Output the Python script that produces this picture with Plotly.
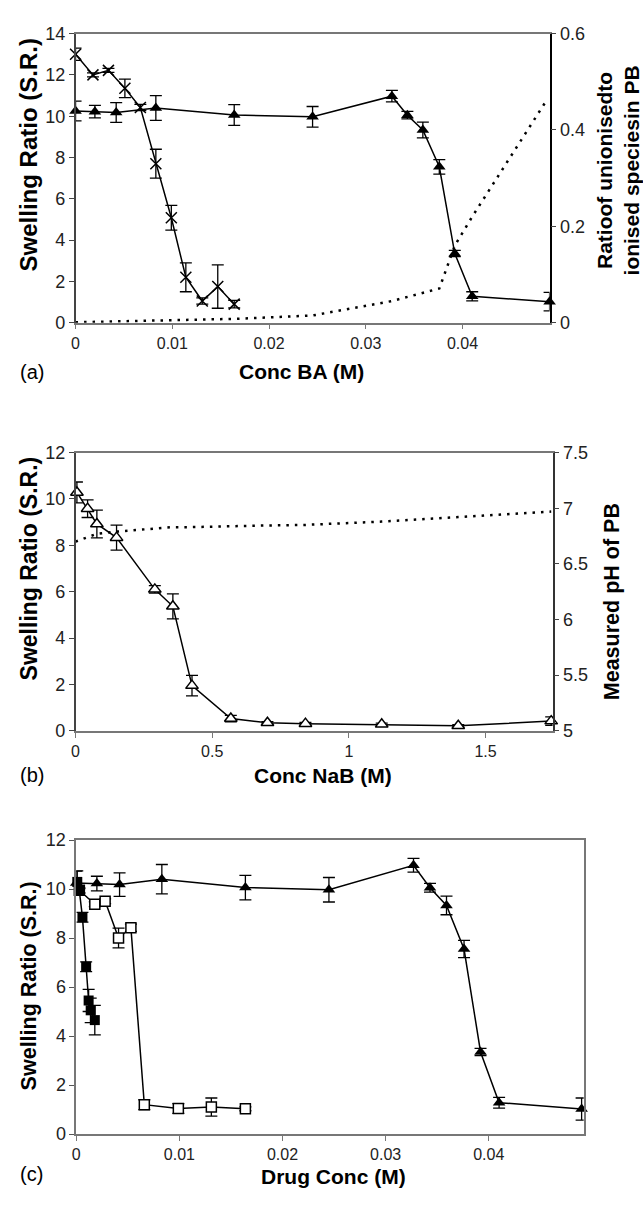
import plotly.graph_objects as go

# ---------------- data ----------------
# Panel (a) / (c): triangles (BA)
ba_x = [0, 0.002, 0.0042, 0.0083, 0.0164, 0.0245, 0.0327, 0.0343, 0.0359, 0.0376, 0.0392, 0.041, 0.049]
ba_sr = [10.25, 10.22, 10.18, 10.4, 10.06, 9.97, 10.97, 10.05, 9.33, 7.55, 3.35, 1.28, 1.02]
ba_err = [0.48, 0.3, 0.48, 0.6, 0.5, 0.5, 0.28, 0.18, 0.38, 0.35, 0.15, 0.22, 0.45]

# Panel (a): crosses
cr_x = [0, 0.0018, 0.0034, 0.0051, 0.0067, 0.0083, 0.0099, 0.0114, 0.0131, 0.0147, 0.0164]
cr_sr = [13.0, 12.0, 12.22, 11.35, 10.42, 7.7, 5.08, 2.2, 1.05, 1.75, 0.9]
cr_err = [0.3, 0.1, 0.1, 0.45, 0.15, 0.7, 0.6, 0.7, 0.15, 1.05, 0.18]

# Panel (a): ratio of unionised to ionised species (right axis)
ratio_x = [0, 0.008, 0.0164, 0.0245, 0.0327, 0.0376, 0.0392, 0.041, 0.0488]
ratio_y = [0.001, 0.004, 0.008, 0.015, 0.045, 0.071, 0.16, 0.22, 0.465]

# Panel (b): NaB
nab_x = [0.005, 0.044, 0.078, 0.15, 0.29, 0.356, 0.426, 0.568, 0.702, 0.841, 1.12, 1.40, 1.74]
nab_sr = [10.28, 9.58, 8.92, 8.33, 6.1, 5.37, 1.95, 0.53, 0.35, 0.31, 0.28, 0.22, 0.42]
nab_err = [0.45, 0.38, 0.6, 0.54, 0.16, 0.54, 0.44, 0.14, 0.05, 0.05, 0.05, 0.05, 0.18]
ph_x = [0, 0.044, 0.078, 0.15, 0.29, 0.356, 0.426, 0.568, 0.702, 0.841, 1.12, 1.40, 1.74]
ph_y = [6.70, 6.74, 6.77, 6.79, 6.82, 6.83, 6.83, 6.84, 6.845, 6.85, 6.88, 6.92, 6.97]

# Panel (c): open squares
os_x = [0.0003, 0.0018, 0.0028, 0.0041, 0.0053, 0.0066, 0.0099, 0.0131, 0.0164]
os_sr = [9.95, 9.38, 9.5, 8.0, 8.42, 1.2, 1.04, 1.1, 1.03]
os_err = [0.1, 0.1, 0.1, 0.4, 0.15, 0.2, 0.2, 0.37, 0.08]

# Panel (c): filled squares
fs_x = [0.0001, 0.0003, 0.0006, 0.00096, 0.0012, 0.0014, 0.0018]
fs_sr = [10.29, 9.92, 8.85, 6.83, 5.45, 5.05, 4.65]
fs_err = [0.45, 0.1, 0.2, 0.2, 0.45, 0.5, 0.6]

a_ticks = [0, 0.01, 0.02, 0.03, 0.04]
a_ticktext = ["0", "0.01", "0.02", "0.03", "0.04"]
ratio_ticks = [0, 0.2, 0.4, 0.6]
ratio_ticktext = ["0", "0.2", "0.4", "0.6"]
b_ticks = [0, 0.5, 1, 1.5]
b_ticktext = ["0", "0.5", "1", "1.5"]
ph_ticks = [5, 5.5, 6, 6.5, 7, 7.5]
ph_ticktext = ["5", "5.5", "6", "6.5", "7", "7.5"]

# ---------------- figure ----------------
W, H = 643, 1206
FONT = "Liberation Sans, Arial, Helvetica, sans-serif"


def py(y):
    return 1 - y / H


def px(x):
    return x / W


line = dict(color="black", width=1.5)


def ebar(arr):
    return dict(type="data", array=arr, color="black", thickness=1.3, width=6, visible=True)


fig = go.Figure()

# (a)
fig.add_trace(go.Scatter(x=ratio_x, y=ratio_y, xaxis="x", yaxis="y2", mode="lines",
                         line=dict(color="black", width=2.5, dash="2.5px,6px"), hoverinfo="skip"))
fig.add_trace(go.Scatter(x=ba_x, y=ba_sr, xaxis="x", yaxis="y", mode="lines+markers",
                         line=line, error_y=ebar(ba_err), cliponaxis=False,
                         marker=dict(symbol="triangle-up", size=11, color="black")))
fig.add_trace(go.Scatter(x=cr_x, y=cr_sr, xaxis="x", yaxis="y", mode="lines+markers",
                         line=line, error_y=ebar(cr_err), cliponaxis=False,
                         marker=dict(symbol="x-thin-open", size=11, color="black",
                                     line=dict(color="black", width=1.5))))

# (b)
fig.add_trace(go.Scatter(x=ph_x, y=ph_y, xaxis="x2", yaxis="y4", mode="lines",
                         line=dict(color="black", width=2.5, dash="2.5px,6px"), hoverinfo="skip"))
fig.add_trace(go.Scatter(x=nab_x, y=nab_sr, xaxis="x2", yaxis="y3", mode="lines+markers",
                         line=line, error_y=ebar(nab_err), cliponaxis=False,
                         marker=dict(symbol="triangle-up", size=11, color="white",
                                     line=dict(color="black", width=1.5))))

# (c)
fig.add_trace(go.Scatter(x=os_x, y=os_sr, xaxis="x3", yaxis="y5", mode="lines+markers",
                         line=line, error_y=ebar(os_err), cliponaxis=False,
                         marker=dict(symbol="square", size=10, color="white",
                                     line=dict(color="black", width=1.5))))
fig.add_trace(go.Scatter(x=fs_x, y=fs_sr, xaxis="x3", yaxis="y5", mode="lines+markers",
                         line=line, error_y=ebar(fs_err), cliponaxis=False,
                         marker=dict(symbol="square", size=10, color="black")))
fig.add_trace(go.Scatter(x=ba_x, y=ba_sr, xaxis="x3", yaxis="y5", mode="lines+markers",
                         line=line, error_y=ebar(ba_err), cliponaxis=False,
                         marker=dict(symbol="triangle-up", size=11, color="black")))

ytickfont = dict(family=FONT, size=18, color="#222")
xtickfont = dict(family=FONT, size=16, color="#222")
common = dict(showgrid=False, zeroline=False, showline=True, ticks="outside", ticklen=5,
              tickwidth=1, fixedrange=True)

dom_a_x = [px(72), px(549)]
dom_a_y = [py(318), py(24)]
dom_b_x = [px(72), px(552)]
dom_b_y = [py(733), py(450)]
dom_c_x = [px(72.7), px(583.3)]
dom_c_y = [py(1143), py(844)]

fig.update_layout(
    width=W, height=H, margin=dict(l=0, r=0, t=0, b=0),
    paper_bgcolor="white", plot_bgcolor="white", showlegend=False,
    font=dict(family=FONT, color="black"),
    xaxis=dict(domain=dom_a_x, anchor="y", range=[0, 0.049], tickvals=a_ticks, ticktext=a_ticktext,
               linecolor="#777", linewidth=1.5, tickcolor="#777", mirror=True, tickfont=xtickfont, **common),
    yaxis=dict(domain=dom_a_y, anchor="x", range=[0, 14], dtick=2, tick0=0,
               linecolor="#444", linewidth=1.5, tickcolor="#444", tickfont=ytickfont, **common),
    yaxis2=dict(overlaying="y", side="right", anchor="x", range=[0, 0.6], tickvals=ratio_ticks,
                ticktext=ratio_ticktext, linecolor="black", linewidth=1.5, tickcolor="#444",
                tickfont=ytickfont, **common),
    xaxis2=dict(domain=dom_b_x, anchor="y3", range=[0, 1.745], tickvals=b_ticks, ticktext=b_ticktext,
                linecolor="#777", linewidth=1.5, tickcolor="#777", mirror=True, tickfont=xtickfont, **common),
    yaxis3=dict(domain=dom_b_y, anchor="x2", range=[0, 12], dtick=2, tick0=0,
                linecolor="#444", linewidth=1.5, tickcolor="#444", tickfont=ytickfont, **common),
    yaxis4=dict(overlaying="y3", side="right", anchor="x2", range=[5, 7.5], tickvals=ph_ticks,
                ticktext=ph_ticktext, linecolor="#333", linewidth=1.5, tickcolor="#444",
                tickfont=ytickfont, **common),
    xaxis3=dict(domain=dom_c_x, anchor="y5", range=[0, 0.0492], tickvals=a_ticks, ticktext=a_ticktext,
                linecolor="#777", linewidth=1.5, tickcolor="#777", mirror=True, tickfont=xtickfont, **common),
    yaxis5=dict(domain=dom_c_y, anchor="x3", range=[0, 12], dtick=2, tick0=0,
                linecolor="#777", linewidth=1.5, tickcolor="#555", mirror=True, tickfont=ytickfont, **common),
)

ann = []


def add_text(text, x, y, size=21, bold_=True, angle=0, xanchor="center"):
    ann.append(dict(text=f"<b>{text}</b>" if bold_ else text, x=px(x), y=py(y), xref="paper", yref="paper",
                    showarrow=False, textangle=angle, xanchor=xanchor, yanchor="middle",
                    font=dict(family=FONT, size=size, color="black")))


# x titles
add_text("Conc BA (M)", 299, 368)
add_text("Conc NaB (M)", 321, 778)
add_text("Drug Conc (M)", 332, 1186)
# panel letters
add_text("(a)", 14, 368, size=20, bold_=False, xanchor="left")
add_text("(b)", 14, 778, size=20, bold_=False, xanchor="left")
add_text("(c)", 14, 1184, size=20, bold_=False, xanchor="left")
# left y titles
add_text("Swelling Ratio (S.R.)", 25, 147, size=24, angle=-90)
add_text("Swelling Ratio (S.R.)", 25, 568, size=23, angle=-90)
add_text("Swelling Ratio (S.R.)", 25, 992, size=21.5, angle=-90)
# right y titles
add_text("Ratioof unionisedto<br>ionised speciesin PB", 618, 163, size=21, angle=-90)
add_text("Measured pH of PB", 612, 602, size=21.5, angle=-90)

fig.update_layout(annotations=ann)

fig.write_html("out.html")
